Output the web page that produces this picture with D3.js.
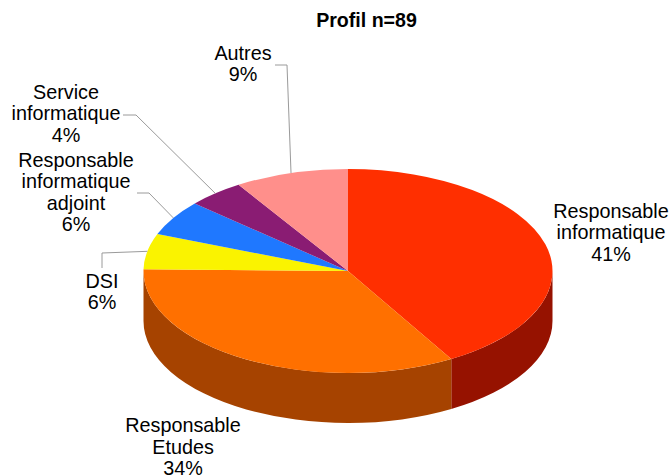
<!DOCTYPE html>
<html>
<head>
<meta charset="utf-8">
<script src="https://cdn.jsdelivr.net/npm/d3@7"></script>
<style>
  html, body { margin: 0; padding: 0; background: #fff; }
  text { font-family: "Liberation Sans", sans-serif; fill: #000; }
</style>
</head>
<body>
<svg id="chart" width="669" height="476"></svg>
<script>
// counts out of n=89, clockwise from 12 o'clock
var categories = ['Responsable informatique', 'Responsable Etudes', 'DSI', 'Responsable informatique adjoint', 'Service informatique', 'Autres'];
var counts = [37, 30, 5, 5, 4, 8];
var percentLabels = ['41%', '34%', '6%', '6%', '4%', '9%'];
var title = 'Profil n=89';

var topColors = ['#ff2f00', '#ff7000', '#faf300', '#1f78ff', '#8a1c73', '#ff8f8b'];
var wallColors = ['#961200', '#a64300', '#a6a000', '#14509f', '#5c134d', '#a65f5c'];

// label layout, same order as categories
var labelLines = [
  ['Responsable', 'informatique'],
  ['Responsable', 'Etudes'],
  ['DSI'],
  ['Responsable', 'informatique', 'adjoint'],
  ['Service', 'informatique'],
  ['Autres']
];
var labelX = [611, 183, 102, 76, 66, 243];
var labelTop = [217.5, 432, 287.5, 166.5, 98.5, 59.5];
// leader elbows [start, elbow], null = no leader
var leaders = [null, null,
  [[102, 268], [102, 253]],
  [[137, 193], [149, 193]],
  [[123, 115], [136, 115]],
  [[275, 65], [287, 65]]
];

var cx = 348, cy = 271, rx = 204.5, ry = 102, depth = 50;
var squash = ry / rx;

var svg = d3.select('#chart');
var arcs = d3.pie().sort(null).value(function(d) { return d; })(counts);
var arc = d3.arc().innerRadius(0).outerRadius(rx);

var pieG = svg.append('g')
  .attr('transform', 'translate(' + cx + ',' + cy + ') scale(1,' + squash + ')');

// side wall, only the front half of the ellipse shows
function wallPath(d) {
  var a0 = Math.max(d.startAngle, Math.PI / 2) - Math.PI / 2;
  var a1 = Math.min(d.endAngle, 3 * Math.PI / 2) - Math.PI / 2;
  if (a1 <= a0) return null;
  var p = d3.path();
  var off = depth / squash;
  p.arc(0, 0, rx, a0, a1);
  p.arc(0, off, rx, a1, a0, true);
  p.closePath();
  return p.toString();
}

pieG.selectAll('path.wall')
  .data(arcs)
  .join('path')
  .attr('class', 'wall')
  .attr('d', wallPath)
  .attr('fill', function(d, i) { return wallColors[i]; });

pieG.selectAll('path.top')
  .data(arcs)
  .join('path')
  .attr('class', 'top')
  .attr('d', arc)
  .attr('fill', function(d, i) { return topColors[i]; });

// leaders end on the rim at each slice's mid angle
function rim(d) {
  var a = (d.startAngle + d.endAngle) / 2;
  return [cx + rx * Math.sin(a), cy - ry * Math.cos(a)];
}

var line = d3.line();
svg.selectAll('path.leader')
  .data(arcs.filter(function(d, i) { return leaders[i]; }))
  .join('path')
  .attr('class', 'leader')
  .attr('fill', 'none')
  .attr('stroke', '#9a9a9a')
  .attr('stroke-width', 1)
  .attr('d', function(d) {
    return line(leaders[d.index].concat([rim(d)]));
  });

// labels
var lineH = 21.6;
categories.forEach(function(c, i) {
  var t = svg.append('text')
    .attr('text-anchor', 'middle')
    .attr('font-size', 19.8);
  labelLines[i].concat([percentLabels[i]]).forEach(function(s, j) {
    t.append('tspan')
      .attr('x', labelX[i])
      .attr('y', labelTop[i] + j * lineH)
      .text(s);
  });
});

svg.append('text')
  .attr('x', 366.5)
  .attr('y', 27)
  .attr('text-anchor', 'middle')
  .attr('font-size', 19.6)
  .attr('font-weight', 'bold')
  .text(title);
</script>
</body>
</html>
